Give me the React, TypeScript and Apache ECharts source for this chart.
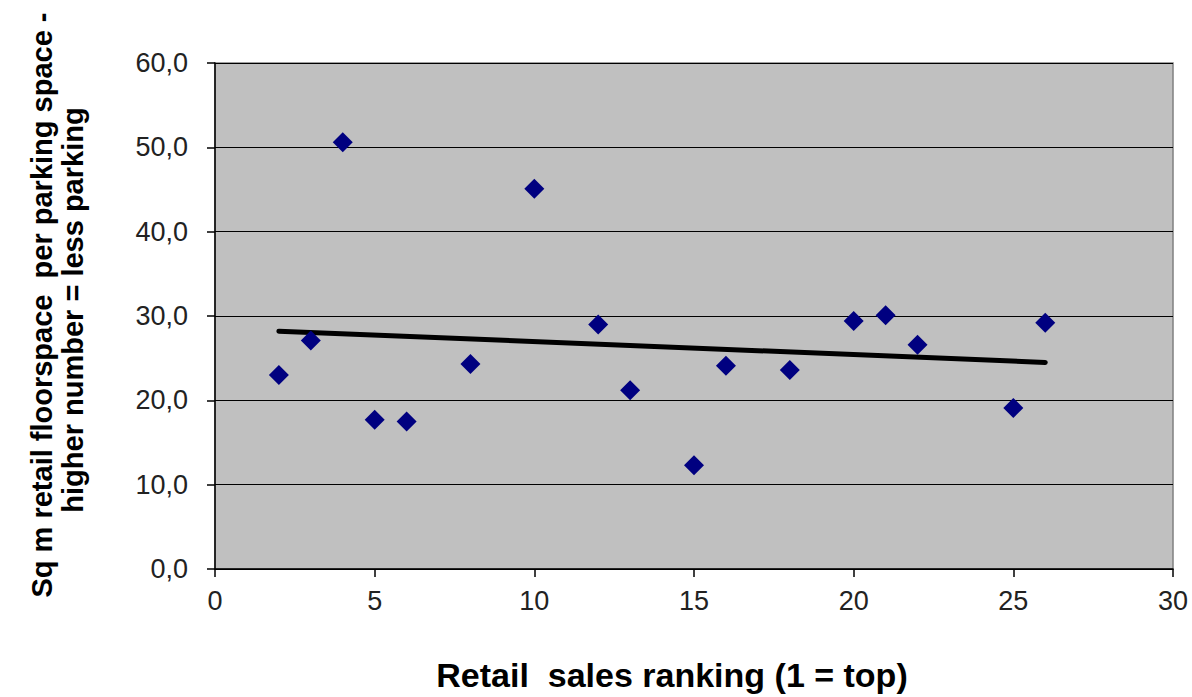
import React, { useEffect, useRef } from "react";
import * as echarts from "echarts";

const rankings = [2, 3, 4, 5, 6, 8, 10, 12, 13, 15, 16, 18, 20, 21, 22, 25, 26];
const floorspace = [23.0, 27.1, 50.6, 17.7, 17.5, 24.3, 45.1, 29.0, 21.2, 12.3, 24.1, 23.6, 29.4, 30.1, 26.6, 19.1, 29.2];
const trendX = [2, 26];
const trendY = [28.2, 24.5];
const yTitleLines = ["Sq m retail floorspace  per parking space -", "higher number = less parking"];
const xTitle = "Retail  sales ranking (1 = top)";

export default function App() {
  const ref = useRef<HTMLDivElement>(null);
  useEffect(() => {
    if (!ref.current) return;
    const chart = echarts.init(ref.current, null, { renderer: "svg" });
    const font = "'Liberation Sans', Arial, sans-serif";
    chart.setOption({
      animation: false,
      backgroundColor: "#ffffff",
      grid: {
        left: 215,
        right: 19,
        top: 63,
        bottom: 128,
        show: true,
        backgroundColor: "#c0c0c0",
        borderColor: "#808080",
        borderWidth: 1.5,
      },
      xAxis: {
        type: "value",
        min: 0,
        max: 30,
        interval: 5,
        axisLine: { show: true, onZero: false, lineStyle: { color: "#000", width: 1.5 } },
        axisTick: { show: true, length: 8, lineStyle: { color: "#000", width: 1.5 } },
        axisLabel: { color: "#222", fontSize: 27, fontFamily: font, margin: 18 },
        splitLine: { show: false },
      },
      yAxis: {
        type: "value",
        min: 0,
        max: 60,
        interval: 10,
        axisLine: { show: true, lineStyle: { color: "#000", width: 1.5 } },
        axisTick: { show: true, length: 8, lineStyle: { color: "#000", width: 1.5 } },
        axisLabel: {
          color: "#222",
          fontSize: 27,
          fontFamily: font,
          margin: 27,
          formatter: (v: number) => v.toFixed(1).replace(".", ","),
        },
        splitLine: { show: true, lineStyle: { color: "#000", width: 1.2 } },
      },
      graphic: [
        {
          type: "text",
          x: 42,
          y: 305,
          rotation: Math.PI / 2,
          style: {
            text: yTitleLines[0],
            font: `bold 29px ${font}`,
            fill: "#000",
            textAlign: "center",
            textVerticalAlign: "middle",
          },
        },
        {
          type: "text",
          x: 73,
          y: 310,
          rotation: Math.PI / 2,
          style: {
            text: yTitleLines[1],
            font: `bold 29px ${font}`,
            fill: "#000",
            textAlign: "center",
            textVerticalAlign: "middle",
          },
        },
        {
          type: "text",
          x: 672,
          y: 675,
          style: {
            text: xTitle,
            font: `bold 34px ${font}`,
            fill: "#000",
            textAlign: "center",
            textVerticalAlign: "middle",
          },
        },
      ],
      series: [
        {
          type: "line",
          data: trendX.map((x, i) => [x, trendY[i]]),
          showSymbol: false,
          symbol: "none",
          lineStyle: { color: "#000", width: 5, cap: "round" },
          z: 2,
        },
        {
          type: "scatter",
          data: rankings.map((x, i) => [x, floorspace[i]]),
          symbol: "diamond",
          symbolSize: 20,
          itemStyle: { color: "#000080", opacity: 1 },
          z: 3,
        },
      ],
    });
    return () => chart.dispose();
  }, []);
  return <div ref={ref} style={{ position: "fixed", left: 0, top: 0, width: 1192, height: 697 }} />;
}
